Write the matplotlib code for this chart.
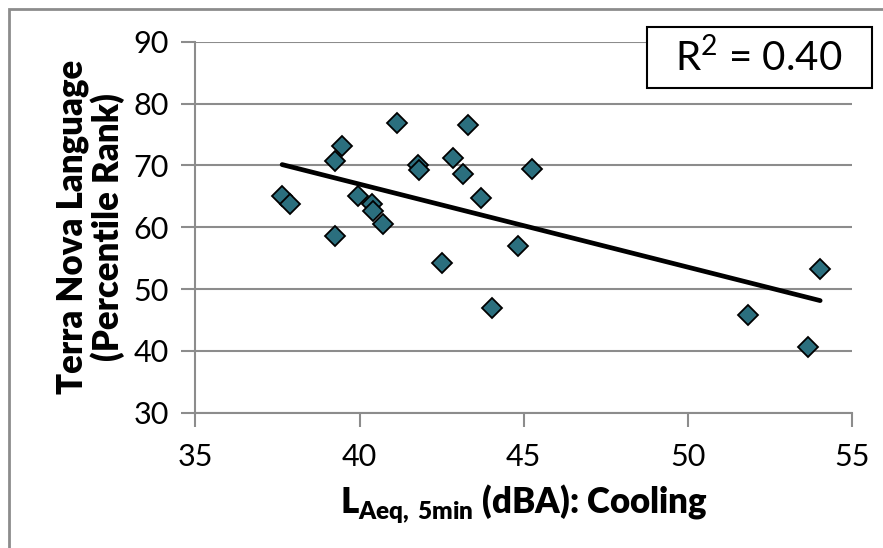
import matplotlib
matplotlib.use("Agg")
import matplotlib.pyplot as plt
import numpy as np
from matplotlib.patches import Rectangle

# --- Global Style Settings ---
plt.rcParams['font.family'] = ['Lato', 'DejaVu Sans']
plt.rcParams['mathtext.fontset'] = 'custom'
plt.rcParams['mathtext.rm'] = 'Lato'
plt.rcParams['mathtext.bf'] = 'Lato:heavy'

# Noise level (dBA) vs. Terra Nova language percentile rank
noise_dba = [41.13, 43.30, 39.46, 39.25, 41.77, 41.80, 42.86, 43.14, 45.27,
             37.64, 37.89, 39.96, 40.37, 40.42, 40.70, 43.69, 39.26, 42.51,
             44.84, 44.05, 51.85, 53.68, 54.04]
language_rank = [76.9, 76.5, 73.2, 70.7, 70.0, 69.2, 71.2, 68.6, 69.4,
                 65.1, 63.7, 65.1, 63.8, 62.6, 60.5, 64.8, 58.6, 54.2,
                 56.9, 47.0, 45.8, 40.6, 53.3]
r2_label = "R$^2$ = 0.40"
x_ticks = [35, 40, 45, 50, 55]
y_ticks = [30, 40, 50, 60, 70, 80, 90]

GRID = '#8c8c8c'
MARKER = '#2b6f7e'

fig = plt.figure(figsize=(8.83, 5.48), dpi=100)
ax = fig.add_axes([0.2214, 0.2469, 0.7431, 0.677])

x = np.array(noise_dba)
y = np.array(language_rank)
ax.plot(x, y, linestyle='none', marker='D', markersize=10.5,
        markerfacecolor=MARKER, markeredgecolor='black', markeredgewidth=1.3,
        zorder=3)

# linear trendline
slope, intercept = np.polyfit(x, y, 1)
xl = np.array([x.min(), x.max()])
ax.plot(xl, slope * xl + intercept, color='black', linewidth=3.4,
        solid_capstyle='round', zorder=4)

ax.set_xlim(x_ticks[0], x_ticks[-1])
ax.set_ylim(y_ticks[0], y_ticks[-1])
ax.set_xticks(x_ticks)
ax.set_yticks(y_ticks)
ax.tick_params(axis='both', labelsize=22, length=10, width=1.5, color=GRID,
               direction='out')
ax.tick_params(axis='x', pad=12)
ax.tick_params(axis='y', pad=9)
ax.yaxis.grid(True, color=GRID, linewidth=1.5)
ax.set_axisbelow(True)
for side in ['top', 'right']:
    ax.spines[side].set_visible(False)
for side in ['left', 'bottom']:
    ax.spines[side].set_color(GRID)
    ax.spines[side].set_linewidth(1.5)

ax.set_ylabel("Terra Nova Language\n(Percentile Rank)", fontsize=25,
              fontweight='heavy', linespacing=1.05, labelpad=6)
ax.set_xlabel(r"$\mathbf{L}_{\mathbf{Aeq,\,5min}}$ (dBA): Cooling",
              fontsize=25, fontweight='heavy', labelpad=8)

# R^2 box
fig.patches.append(Rectangle((647 / 883, 1 - 88.3 / 548), 224.7 / 883, 61.6 / 548,
                             transform=fig.transFigure, facecolor='white',
                             edgecolor='black', linewidth=1.5, zorder=5))
fig.text(759 / 883, 1 - 58 / 548, r2_label, fontsize=29, ha='center',
         va='center', zorder=6)

# outer frame
fig.patches.append(Rectangle((9 / 883, -0.05), 1.0, 1 - 9 / 548 + 0.05,
                             transform=fig.transFigure, facecolor='none',
                             edgecolor=GRID, linewidth=2, zorder=0))

fig.savefig("out.png", dpi=100)
